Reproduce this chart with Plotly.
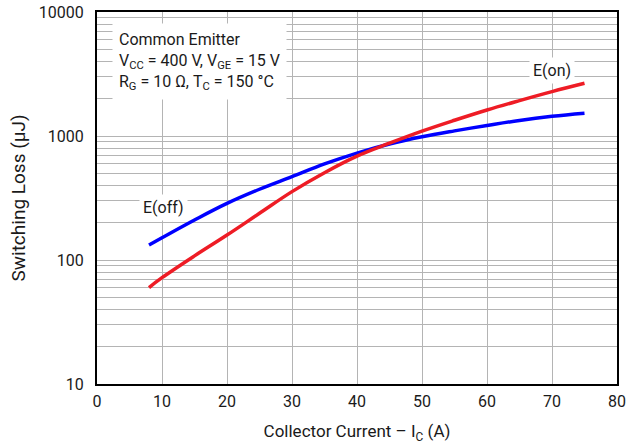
import math
import plotly.graph_objects as go

# Collector current (A)
current = [8, 10, 15, 20, 25, 30, 35, 40, 45, 50, 55, 60, 65, 70, 75]
# Turn-off switching energy (µJ)
e_off = [132, 151, 210, 286, 372, 470, 595, 728, 862, 986, 1100, 1215, 1335, 1440, 1525]
# Turn-on switching energy (µJ)
e_on = [60, 72, 108, 159, 238, 356, 506, 688, 875, 1095, 1340, 1622, 1930, 2280, 2660]

x_ticks = [0, 10, 20, 30, 40, 50, 60, 70, 80]
y_ticks = [10, 100, 1000, 10000]
y_tick_text = ["10", "100", "1000", "10000"]

FONT = "Roboto, Liberation Sans, sans-serif"
TEXT = "#1a1a1a"
GRID = "#b4b4b4"

fig = go.Figure()
fig.add_trace(go.Scatter(x=current, y=e_off, mode="lines",
                         line=dict(color="#0000ff", width=3.5, shape="spline", smoothing=1.1),
                         name="E(off)"))
fig.add_trace(go.Scatter(x=current, y=e_on, mode="lines",
                         line=dict(color="#ee1c25", width=3.5, shape="spline", smoothing=1.1),
                         name="E(on)"))

fig.update_layout(
    width=639, height=444,
    margin=dict(l=97, r=22, t=12, b=60),
    paper_bgcolor="white", plot_bgcolor="white",
    showlegend=False,
    font=dict(family=FONT, size=16, color=TEXT),
)
fig.update_xaxes(
    range=[0, 80], tickvals=x_ticks, showgrid=True, gridcolor=GRID, gridwidth=1,
    showline=True, linecolor="black", linewidth=2, mirror=True, ticks="",
    ticklabelstandoff=2, automargin=False,
    title=dict(text="Collector Current – I<sub>C</sub> (A)", standoff=18, font=dict(size=17)),
    zeroline=False,
)
fig.update_yaxes(
    type="log", range=[1, 4], tickvals=y_ticks, ticktext=y_tick_text,
    showgrid=True, gridcolor=GRID, gridwidth=1,
    minor=dict(dtick="D1", showgrid=True, gridcolor=GRID, gridwidth=1, ticks=""),
    showline=True, linecolor="black", linewidth=2, mirror=True, ticks="",
    ticklabelstandoff=8, automargin=False,
    title=dict(text="Switching Loss (µJ)", standoff=8),
)

fig.add_annotation(
    x=0.028, y=0.971, xref="paper", yref="paper", xanchor="left", yanchor="top",
    text="Common Emitter<br>V<sub>CC</sub> = 400 V, V<sub>GE</sub> = 15 V<br>R<sub>G</sub> = 10 Ω, T<sub>C</sub> = 150 °C",
    showarrow=False, align="left", bgcolor="white", borderpad=6,
    font=dict(family=FONT, size=16, color=TEXT),
)
# Curve labels (annotation y on a log axis is given as log10 of the value)
fig.add_annotation(x=70, y=math.log10(3400), text="E(on)", showarrow=False, bgcolor="white",
                   borderpad=3, font=dict(family=FONT, size=16, color=TEXT))
fig.add_annotation(x=10.3, y=math.log10(266), text="E(off)", showarrow=False, bgcolor="white",
                   borderpad=3, font=dict(family=FONT, size=16, color=TEXT))

fig.write_html("out.html")
